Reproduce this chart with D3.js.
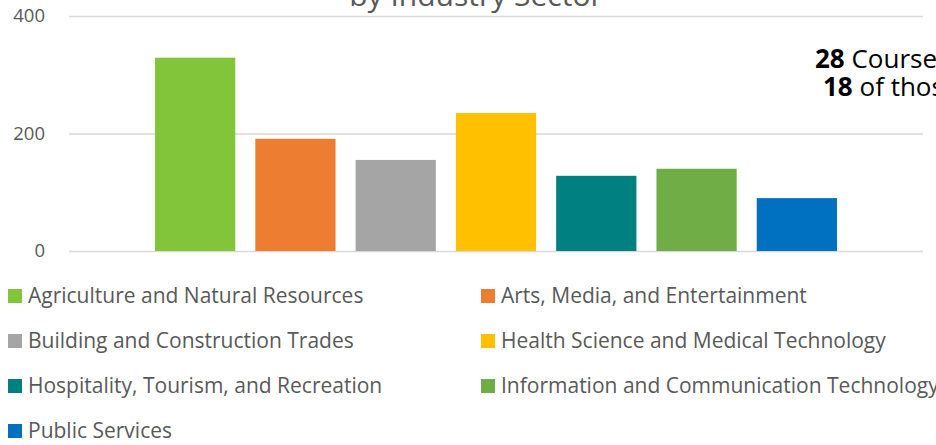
<!DOCTYPE html>
<html>
<head>
<meta charset="utf-8">
<script src="https://cdn.jsdelivr.net/npm/d3@7"></script>
<style>
    body { margin: 0; background: #fff; }
    svg { display: block; font-family: "Open Sans", "Noto Sans", sans-serif; }
</style>
</head>
<body>
<svg id="chart" width="936" height="445"></svg>
<script>
const sectors = [
    "Agriculture and Natural Resources",
    "Arts, Media, and Entertainment",
    "Building and Construction Trades",
    "Health Science and Medical Technology",
    "Hospitality, Tourism, and Recreation",
    "Information and Communication Technology",
    "Public Services"
];
const counts = [329, 191, 155, 235, 128, 140, 90];
const colors = ["#82c53a", "#ed7d31", "#a5a5a5", "#ffc000", "#008080", "#70ad47", "#0070c0"];
const yTicks = [0, 200, 400];

const svg = d3.select("#chart");

const x = d3.scaleBand()
    .domain(sectors)
    .range([145, 847])
    .paddingInner(0.2)
    .paddingOuter(0.1);

const y = d3.scaleLinear()
    .domain([0, 400])
    .range([251, 16]);

// gridlines + labels
const yAxis = svg.append("g")
    .attr("transform", "translate(69,0)")
    .call(d3.axisLeft(y).tickValues(yTicks).tickSize(-854).tickPadding(24));
yAxis.select(".domain").remove();
yAxis.selectAll("line")
    .attr("stroke", "#d9d9d9")
    .attr("stroke-width", 1.5);
yAxis.selectAll("text")
    .attr("fill", "#595959")
    .style("font-size", "18.5px")
    .style("font-family", "'Open Sans', sans-serif");

// title (top is cut off in the source)
svg.append("text")
    .attr("x", 476)
    .attr("y", 6)
    .attr("text-anchor", "middle")
    .attr("fill", "#595959")
    .style("font-size", "30px")
    .text("by Industry Sector");

// bars
svg.append("g")
    .selectAll("rect")
    .data(sectors)
    .enter().append("rect")
    .attr("x", d => x(d))
    .attr("width", x.bandwidth())
    .attr("y", (d, i) => y(counts[i]))
    .attr("height", (d, i) => y(0) - y(counts[i]))
    .attr("fill", (d, i) => colors[i]);

// note on the right, runs past the edge like the source
const note = svg.append("g")
    .attr("fill", "#000")
    .style("font-size", "26px");
const l1 = note.append("text").attr("x", 815).attr("y", 68);
l1.append("tspan").attr("font-weight", "bold").text("28");
l1.append("tspan").text(" Courses");
const l2 = note.append("text").attr("x", 823).attr("y", 96);
l2.append("tspan").attr("font-weight", "bold").text("18");
l2.append("tspan").text(" of those");

// legend
const legend = svg.append("g")
    .selectAll("g")
    .data(sectors)
    .enter().append("g")
    .attr("transform", (d, i) => `translate(${i % 2 ? 481 : 8},${289 + Math.floor(i / 2) * 45})`);

legend.append("rect")
    .attr("width", 14)
    .attr("height", 14)
    .attr("fill", (d, i) => colors[i]);

legend.append("text")
    .attr("x", 20)
    .attr("y", 14)
    .attr("fill", "#595959")
    .style("font-size", "21px")
    .text(d => d);
</script>
</body>
</html>
